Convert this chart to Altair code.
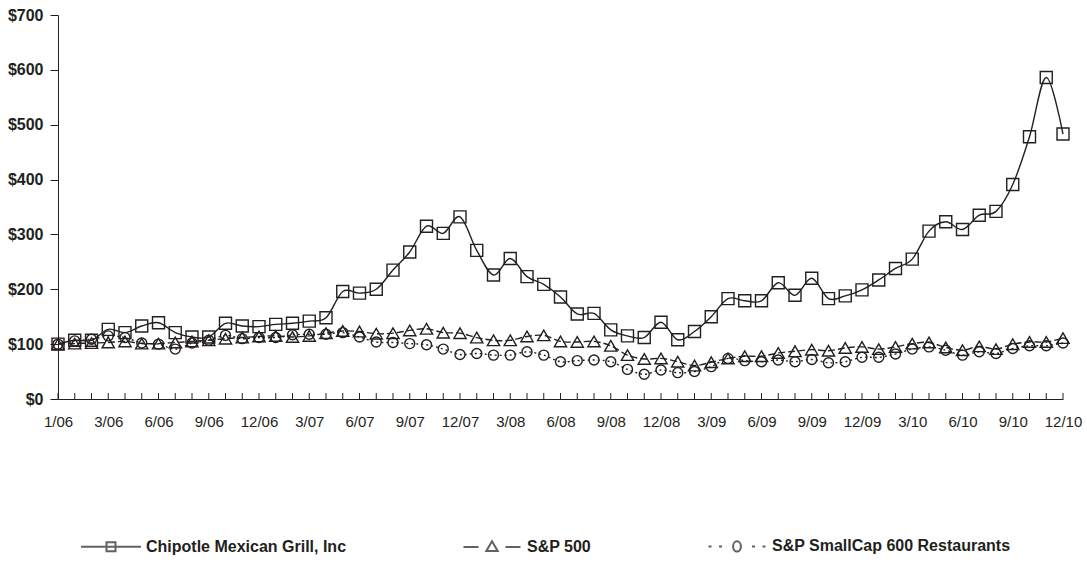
import altair as alt
import pandas as pd

# ---- data ----
periods = ["1/26/06",
           "1/06", "2/06", "3/06", "4/06", "5/06", "6/06", "7/06", "8/06", "9/06", "10/06", "11/06", "12/06",
           "1/07", "2/07", "3/07", "4/07", "5/07", "6/07", "7/07", "8/07", "9/07", "10/07", "11/07", "12/07",
           "1/08", "2/08", "3/08", "4/08", "5/08", "6/08", "7/08", "8/08", "9/08", "10/08", "11/08", "12/08",
           "1/09", "2/09", "3/09", "4/09", "5/09", "6/09", "7/09", "8/09", "9/09", "10/09", "11/09", "12/09",
           "1/10", "2/10", "3/10", "4/10", "5/10", "6/10", "7/10", "8/10", "9/10", "10/10", "11/10", "12/10"]

chipotle = [100, 107, 107, 127, 121, 133, 139, 121, 113, 113,
            138, 133, 132, 136, 138, 142, 148, 196, 193, 200,
            235, 268, 315, 302, 332, 271, 226, 256, 223, 209,
            186, 155, 156, 126, 115, 112, 140, 108, 123, 150,
            183, 179, 179, 212, 189, 220, 183, 188, 199, 217,
            238, 255, 306, 323, 309, 335, 342, 391, 478, 586,
            483]

sp500 = [100, 101, 102, 103, 105, 101, 101, 103, 105, 107,
         110, 112, 114, 115, 113, 115, 120, 124, 123, 119,
         120, 125, 128, 121, 120, 112, 107, 107, 114, 116,
         105, 104, 105, 97, 80, 73, 74, 68, 61, 67,
         74, 78, 78, 84, 87, 90, 88, 93, 95, 91,
         95, 101, 103, 94, 89, 96, 91, 100, 104, 104,
         111]

smallcap = [100, 106, 109, 115, 112, 102, 100, 91, 102, 107,
            116, 110, 112, 112, 117, 118, 118, 121, 113, 104,
            103, 101, 99, 91, 81, 83, 80, 80, 86, 80,
            68, 70, 71, 68, 54, 45, 53, 48, 50, 59,
            74, 70, 68, 71, 68, 72, 66, 68, 76, 76,
            82, 91, 95, 89, 80, 86, 83, 92, 97, 97,
            102]

series_names = ["Chipotle Mexican Grill, Inc", "S&P 500", "S&P SmallCap 600 Restaurants"]
x_tick_labels = ["1/06", "3/06", "6/06", "9/06", "12/06", "3/07", "6/07", "9/07", "12/07",
                 "3/08", "6/08", "9/08", "12/08", "3/09", "6/09", "9/09", "12/09",
                 "3/10", "6/10", "9/10", "12/10"]
y_ticks = [0, 100, 200, 300, 400, 500, 600, 700]

# ---- table ----
rows = []
for name, vals in zip(series_names, [chipotle, sp500, smallcap]):
    for i, (p, v) in enumerate(zip(periods, vals)):
        rows.append({"i": i, "period": p, "series": name, "value": v})
df = pd.DataFrame(rows)

# ---- styling ----
W, H = 1005, 384
INK = "#231f20"
FONT = "Liberation Sans"
LW = 1.4

label_array = "[" + ",".join("'" + s + "'" for s in x_tick_labels) + "]"

x_enc = alt.X(
    "i:Q",
    scale=alt.Scale(domain=[0, len(periods) - 1], nice=False, zero=False),
    axis=alt.Axis(
        values=list(range(0, len(periods), 3)),
        labelExpr=label_array + "[datum.value / 3]",
        ticks=False, tickSize=0, grid=False, title=None,
        domainColor=INK, domainWidth=1,
        labelFont=FONT, labelFontSize=15, labelColor=INK,
        labelPadding=15, labelFlush=False, labelOverlap=False,
    ),
)
y_enc = alt.Y(
    "value:Q",
    scale=alt.Scale(domain=[0, 700], nice=False),
    axis=alt.Axis(
        values=y_ticks,
        labelExpr="'$' + datum.value",
        grid=False, title=None,
        domainColor=INK, domainWidth=1,
        tickColor=INK, tickSize=8, tickWidth=1,
        labelFont=FONT, labelFontSize=16, labelFontWeight="bold", labelColor=INK,
        labelPadding=7,
    ),
)

base = alt.Chart(df)

shapes = ["square", "triangle-up", "circle"]
sizes = [144, 150, 100]
dashes = [None, [7, 3], [2, 3]]

layers = []
for name, dash in zip(series_names, dashes):
    kw = dict(color=INK, strokeWidth=LW, interpolate="cardinal")
    if dash:
        kw["strokeDash"] = dash
    layers.append(
        base.transform_filter(alt.datum.series == name)
        .mark_line(**kw)
        .encode(x=x_enc if not layers else alt.X("i:Q"), y=y_enc if not layers else alt.Y("value:Q"))
    )
for name, shp, sz in zip(series_names, shapes, sizes):
    layers.append(
        base.transform_filter(alt.datum.series == name)
        .mark_point(shape=shp, size=sz, filled=False, color=INK, strokeWidth=LW, opacity=1)
        .encode(x=alt.X("i:Q"), y=alt.Y("value:Q"))
    )

# monthly tick marks pointing up into the plot
ticks = (
    base.transform_filter(alt.datum.series == series_names[0])
    .mark_rule(color=INK, strokeWidth=1)
    .encode(x=alt.X("i:Q"), y=alt.value(H - 6), y2=alt.value(H))
)
layers.append(ticks)

# legend: custom symbols (line + marker) driven by series names
legend_paths = [
    "M-1,0H1M-0.15,-0.15H0.15V0.15H-0.15Z",
    "M-0.95,0H-0.45M0.45,0H0.95M0,-0.19L0.19,0.14H-0.19Z",
    "M-0.95,0H-0.85M-0.6,0H-0.5M0.5,0H0.6M0.85,0H0.95"
    "M0.13,0A0.13,0.17 0 1,1 -0.13,0A0.13,0.17 0 1,1 0.13,0",
]
legend_layer = (
    base.transform_filter("false")
    .mark_point(filled=False, color=INK, strokeWidth=LW)
    .encode(
        x=alt.X("i:Q"),
        y=alt.Y("value:Q"),
        shape=alt.Shape(
            "series:N",
            scale=alt.Scale(domain=series_names, range=legend_paths),
            legend=alt.Legend(
                orient="none", legendX=22, legendY=500, direction="horizontal",
                title=None, symbolSize=3600, symbolStrokeWidth=2,
                symbolStrokeColor=INK, symbolFillColor="transparent",
                labelFont=FONT, labelFontSize=16, labelFontWeight="bold", labelColor=INK,
                labelOffset=4, columnPadding=112, padding=0, labelLimit=0,
            ),
        ),
    )
)
layers.append(legend_layer)

chart = (
    alt.layer(*layers)
    .properties(
        width=W, height=H,
        padding={"left": 58, "top": 15, "right": 24, "bottom": 168},
        autosize=alt.AutoSizeParams(type="none"),
        background="white",
    )
    .configure_view(stroke=None)
)

chart.save("out.html", embed_options={"renderer": "svg", "actions": False})
